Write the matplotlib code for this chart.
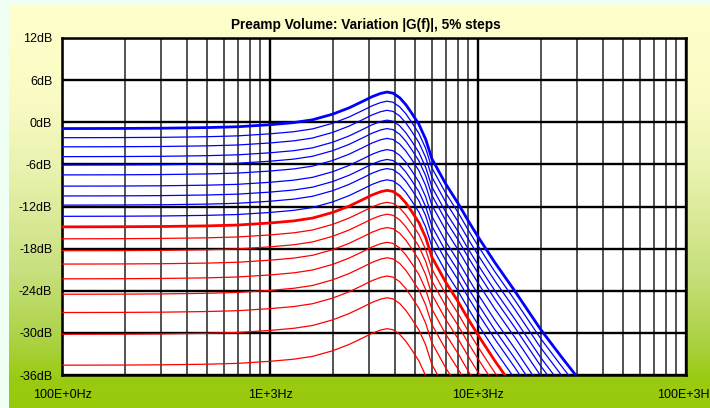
import numpy as np
import matplotlib.pyplot as plt
from matplotlib.colors import LinearSegmentedColormap
from matplotlib.ticker import FixedLocator, LogLocator, NullFormatter

# frecuencias (Hz) y respuesta de la curva al 100% (dB)
freq_hz = [100, 150, 200, 300, 400, 500, 700, 1000, 1300, 1600, 2000, 2400,
           2800, 3100, 3400, 3650, 3900, 4200, 4500, 4800, 5200, 5600, 6000,
           7000, 8000, 9000, 10000, 12000, 15000, 20000, 25000, 30000, 40000,
           50000]
full_db = [-0.9, -0.89, -0.88, -0.85, -0.8, -0.76, -0.64, -0.35, -0.05, 0.35,
           1.15, 2.05, 3.0, 3.65, 4.1, 4.3, 4.15, 3.5, 2.5, 1.3, -0.3, -2.4,
           -5.2, -8.8, -11.5, -14.1, -16.3, -19.9, -24.0, -29.5, -33.3, -36.3,
           -41.5, -45.5]

# nivel en baja frecuencia de cada paso de volumen (100% ... 10%)
pasos_azul = [100, 95, 90, 85, 80, 75, 70, 65, 60, 55]
nivel_azul = [-0.9, -2.2, -3.5, -4.9, -6.1, -7.5, -9.1, -10.5, -11.8, -13.4]
pasos_rojo = [50, 45, 40, 35, 30, 25, 20, 15, 10]
nivel_rojo = [-14.9, -16.6, -18.3, -20.2, -22.3, -24.5, -27.1, -30.2, -34.6]

y_ticks = list(range(-36, 13, 6))
x_ticks = [100, 1000, 10000, 100000]
x_labels = ['100E+0Hz', '1E+3Hz', '10E+3Hz', '100E+3Hz']

plt.rcParams['font.family'] = ['Liberation Sans', 'DejaVu Sans']

fig = plt.figure(figsize=(7.1, 4.08), dpi=100)
fig.patch.set_facecolor('#f0fff4')

# Fondo degradado amarillo -> verde
bg = fig.add_axes([9 / 710, 0, 701 / 710, 402 / 408])
stops = [(0.0, '#ffffcc'), (0.23, '#fafbc4'), (0.41, '#e9f2ae'),
         (0.66, '#c8e07e'), (0.83, '#acd245'), (0.93, '#9acb12'),
         (1.0, '#98c90a')]
cmap = LinearSegmentedColormap.from_list('fondo', stops)
bg.imshow(np.linspace(0, 1, 400).reshape(-1, 1), cmap=cmap, aspect='auto',
          extent=[0, 1, 0, 1])
bg.axis('off')

ax = fig.add_axes([62 / 710, 33 / 408, 624 / 710, 337 / 408])
ax.set_facecolor('white')
ax.set_xscale('log')

f = np.array(freq_hz)
g = np.array(full_db)

# Curvas: misma forma desplazada por el nivel de cada paso
for i, lvl in enumerate(nivel_azul):
    ax.plot(f, g + (lvl - nivel_azul[0]), color='#0000ff',
            lw=2.0 if i == 0 else 0.9, zorder=4 if i == 0 else 3)
for i, lvl in enumerate(nivel_rojo):
    ax.plot(f, g + (lvl - nivel_azul[0]), color='#ff0000',
            lw=2.0 if i == 0 else 0.9, zorder=4 if i == 0 else 3)

ax.set_xlim(100, 100000)
ax.set_ylim(-36, 12)
ax.xaxis.set_major_locator(FixedLocator(x_ticks))
ax.set_xticklabels(x_labels)
ax.xaxis.set_minor_locator(LogLocator(base=10, subs=range(2, 10)))
ax.xaxis.set_minor_formatter(NullFormatter())
ax.set_yticks(y_ticks)
ax.set_yticklabels([f'{v}dB' for v in y_ticks])

ax.set_axisbelow(True)
ax.grid(which='major', axis='x', color='black', lw=1.7)
ax.grid(which='minor', axis='x', color='#444444', lw=1.3)
ax.grid(which='major', axis='y', color='black', lw=1.7)

ax.tick_params(which='both', length=0)
ax.tick_params(axis='y', pad=7, labelsize=9)
ax.tick_params(axis='x', pad=10, labelsize=9)
for s in ax.spines.values():
    s.set_linewidth(1.8)
    s.set_color('black')

fig.text(366 / 710, 1 - 25 / 408, 'Preamp Volume: Variation |G(f)|, 5% steps',
         ha='center', va='center', fontsize=9.8, fontweight='bold')

fig.savefig('out.png', dpi=100, facecolor=fig.get_facecolor())
